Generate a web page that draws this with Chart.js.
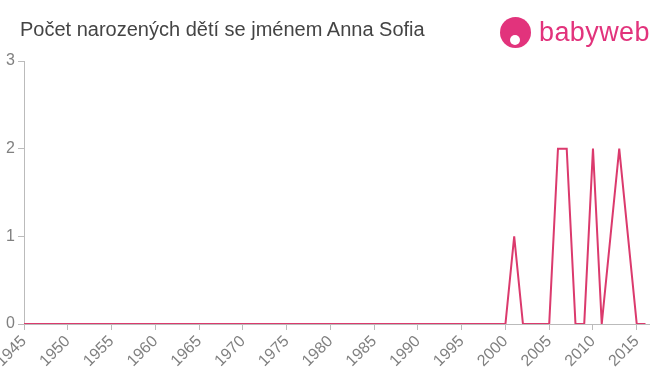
<!DOCTYPE html>
<html>
<head>
<meta charset="utf-8">
<script src="https://cdn.jsdelivr.net/npm/chart.js@4"></script>
<style>
  body { margin: 0; background: #fff; font-family: "Liberation Sans", Arial, sans-serif; }
  #wrap { position: relative; width: 660px; height: 375px; }
  #title { position: absolute; left: 20px; top: 18px; font-size: 20px; color: #444; }
  #logo { position: absolute; left: 500px; top: 14px; height: 36px; display: flex; align-items: center; }
  #logo .ico { width: 31px; height: 31px; border-radius: 50%; background: #e2337c; margin-right: 8px; position: relative; }
  #logo .ico::after { content: ""; position: absolute; left: 10px; top: 18px; width: 10px; height: 10px; border-radius: 50%; background: #fff; }
  #logo .txt { font-size: 27px; color: #e2337c; letter-spacing: 0.4px; }
  canvas { position: absolute; left: 0; top: 0; }
</style>
</head>
<body>
<div id="wrap">
  <canvas id="graf" width="660" height="375"></canvas>
  <div id="title">Počet narozených dětí se jménem Anna Sofia</div>
  <div id="logo"><div class="ico"></div><div class="txt">babyweb</div></div>
</div>
<script>
const roky = [
  1945, 1946, 1947, 1948, 1949, 1950, 1951, 1952, 1953, 1954,
  1955, 1956, 1957, 1958, 1959, 1960, 1961, 1962, 1963, 1964,
  1965, 1966, 1967, 1968, 1969, 1970, 1971, 1972, 1973, 1974,
  1975, 1976, 1977, 1978, 1979, 1980, 1981, 1982, 1983, 1984,
  1985, 1986, 1987, 1988, 1989, 1990, 1991, 1992, 1993, 1994,
  1995, 1996, 1997, 1998, 1999, 2000, 2001, 2002, 2003, 2004,
  2005, 2006, 2007, 2008, 2009, 2010, 2011, 2012, 2013, 2014,
  2015, 2016,
];
const pocty = [
  0, 0, 0, 0, 0, 0, 0, 0, 0, 0,
  0, 0, 0, 0, 0, 0, 0, 0, 0, 0,
  0, 0, 0, 0, 0, 0, 0, 0, 0, 0,
  0, 0, 0, 0, 0, 0, 0, 0, 0, 0,
  0, 0, 0, 0, 0, 0, 0, 0, 0, 0,
  0, 0, 0, 0, 0, 0, 1, 0, 0, 0,
  0, 2, 2, 0, 0, 2, 0, 1, 2, 1,
  0, 0,
];
const xTicks = [1945, 1950, 1955, 1960, 1965, 1970, 1975, 1980, 1985, 1990, 1995, 2000, 2005, 2010, 2015];
const yTicks = [0, 1, 2, 3];

const barva = "#db3a6d";
const seda = "#bbbbbb";
const textSeda = "#808080";

new Chart(document.getElementById("graf"), {
  type: "line",
  data: {
    datasets: [
      {
        data: roky.map((r, i) => ({ x: r, y: pocty[i] })),
        borderColor: barva,
        borderWidth: 2,
        pointRadius: 0,
        tension: 0,
        fill: false,
      },
    ],
  },
  options: {
    responsive: false,
    animation: false,
    layout: { padding: { top: 61, right: 11, bottom: 0, left: 0 } },
    plugins: { legend: { display: false }, tooltip: { enabled: false } },
    scales: {
      x: {
        type: "linear",
        min: 1945,
        max: 2016.4,
        afterBuildTicks: (scale) => {
          scale.ticks = xTicks.map((v) => ({ value: v }));
        },
        afterFit: (scale) => {
          scale.paddingLeft = 0;
          scale.paddingRight = 0;
          scale.height = 51;
        },
        grid: { display: true, drawOnChartArea: false, color: seda, tickLength: 6 },
        border: { color: seda, width: 1 },
        ticks: {
          autoSkip: false,
          maxRotation: 45,
          minRotation: 45,
          padding: 2,
          color: textSeda,
          font: { family: "'Liberation Sans', Arial", size: 16 },
          callback: (v) => String(v),
        },
      },
      y: {
        min: 0,
        max: 3,
        afterBuildTicks: (scale) => {
          scale.ticks = yTicks.map((v) => ({ value: v }));
        },
        afterFit: (scale) => {
          scale.width = 24;
          scale.paddingTop = 0;
          scale.paddingBottom = 0;
        },
        grid: { display: true, drawOnChartArea: false, color: seda, tickLength: 6 },
        border: { color: seda, width: 1 },
        ticks: {
          padding: 3,
          color: textSeda,
          font: { family: "'Liberation Sans', Arial", size: 16 },
        },
      },
    },
  },
});
</script>
</body>
</html>
